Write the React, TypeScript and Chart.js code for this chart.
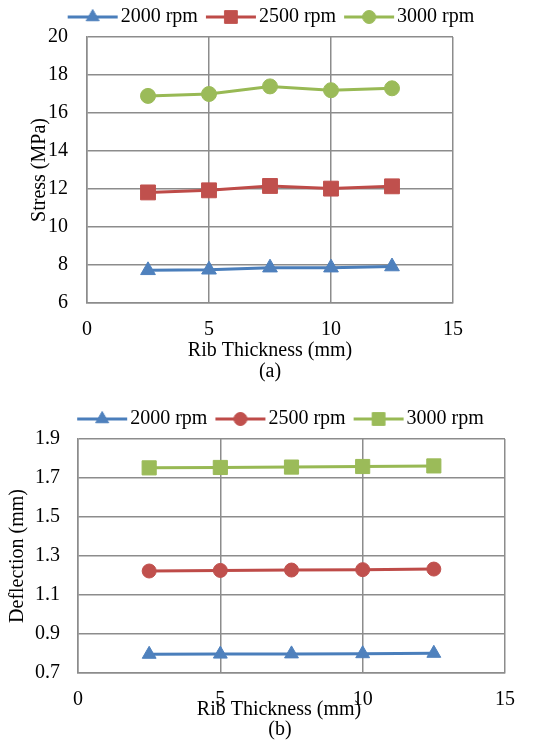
import React, { useEffect, useRef } from 'react';
import { Chart, registerables } from 'chart.js';
import { drawPoint } from 'chart.js/helpers';

Chart.register(...registerables);

// ---------- data ----------
const thickness = [2.5, 5, 7.5, 10, 12.5];
const seriesNames = ['2000 rpm', '2500 rpm', '3000 rpm'];

const stress2000 = [7.72, 7.75, 7.86, 7.86, 7.92];
const stress2500 = [11.82, 11.93, 12.16, 12.02, 12.14];
const stress3000 = [16.9, 17.0, 17.4, 17.2, 17.3];

const deflection2000 = [0.796, 0.797, 0.798, 0.799, 0.801];
const deflection2500 = [1.223, 1.226, 1.228, 1.23, 1.233];
const deflection3000 = [1.752, 1.754, 1.756, 1.759, 1.762];

const xTickValues = [0, 5, 10, 15];
const stressTickValues = [6, 8, 10, 12, 14, 16, 18, 20];
const deflectionTickValues = [0.7, 0.9, 1.1, 1.3, 1.5, 1.7, 1.9];

const xTitle = 'Rib Thickness (mm)';
const stressTitle = 'Stress (MPa)';
const deflectionTitle = 'Deflection (mm)';
const captionA = '(a)';
const captionB = '(b)';

// ---------- styles ----------
const lineColors = ['#4a7ebb', '#be4b48', '#98b954'];
const markerColors = ['#4f81bd', '#c0504d', '#9bbb59'];
const gridColor = '#8c8c8c';
const FAMILY = "'Liberation Serif', 'Times New Roman', serif";
const FONT = { family: FAMILY, size: 20, lineHeight: 1 };

type Marker = { style: string; radius: number; legendRadius: number };

function makeIcon(lineColor: string, markerColor: string, m: Marker) {
  const c = document.createElement('canvas');
  c.width = 70;
  c.height = 20;
  const ctx = c.getContext('2d')!;
  ctx.strokeStyle = lineColor;
  ctx.lineWidth = 3;
  ctx.beginPath();
  ctx.moveTo(15, 10);
  ctx.lineTo(65, 10);
  ctx.stroke();
  ctx.fillStyle = markerColor;
  ctx.strokeStyle = markerColor;
  ctx.lineWidth = 1;
  drawPoint(ctx, { pointStyle: m.style as any, radius: m.legendRadius, borderWidth: 1, rotation: 0 }, 40, 10);
  return c;
}

function buildConfig(p: {
  values: number[][];
  markers: Marker[];
  yTicks: number[];
  yTitle: string;
  yDecimals: number;
  padLeft: number;
  padRight: number;
  padTop: number;
  yWidth: number;
  rightWidth: number;
  yTickPad: number;
  yTitlePad: number;
  xTitleText: string;
  xTitlePad: number;
}) {
  const icons = p.markers.map((m, i) => makeIcon(lineColors[i], markerColors[i], m));
  return {
    type: 'line' as const,
    data: {
      datasets: p.values.map((vals, i) => ({
        label: seriesNames[i],
        data: thickness.map((t, j) => ({ x: t, y: vals[j] })),
        borderColor: lineColors[i],
        backgroundColor: markerColors[i],
        borderWidth: 3,
        pointStyle: p.markers[i].style,
        pointRadius: p.markers[i].radius,
        pointBackgroundColor: markerColors[i],
        pointBorderColor: markerColors[i],
        pointBorderWidth: 1,
        tension: 0,
        clip: false as any,
      })),
    },
    options: {
      responsive: false,
      animation: false as const,
      devicePixelRatio: 1,
      layout: { padding: { left: p.padLeft, right: p.padRight, top: p.padTop, bottom: 0 } },
      plugins: {
        tooltip: { enabled: false },
        legend: {
          position: 'top' as const,
          labels: {
            usePointStyle: true,
            pointStyleWidth: 46,
            padding: 5,
            color: '#000',
            font: FONT,
            generateLabels: () =>
              seriesNames.map((name, i) => ({
                text: name,
                pointStyle: icons[i],
                fillStyle: markerColors[i],
                strokeStyle: markerColors[i],
                lineWidth: 0,
                hidden: false,
                datasetIndex: i,
                fontColor: '#000',
              })),
          },
        },
      },
      scales: {
        x: {
          type: 'linear' as const,
          min: 0,
          max: 15,
          afterBuildTicks: (s: any) => {
            s.ticks = xTickValues.map((v) => ({ value: v }));
          },
          grid: { color: gridColor, lineWidth: 1.5, drawTicks: false },
          border: { color: gridColor, width: 1.5 },
          ticks: { padding: 17, color: '#000', font: FONT, maxRotation: 0 },
          title: {
            display: true,
            text: p.xTitleText,
            color: '#000',
            font: FONT,
            padding: { top: p.xTitlePad, bottom: 0 },
          },
        },
        y: {
          type: 'linear' as const,
          position: 'left' as const,
          min: p.yTicks[0],
          max: p.yTicks[p.yTicks.length - 1],
          afterBuildTicks: (s: any) => {
            s.ticks = p.yTicks.map((v) => ({ value: v }));
          },
          afterFit: (s: any) => {
            s.width = p.yWidth;
          },
          grid: { color: gridColor, lineWidth: 1.5, drawTicks: false },
          border: { color: gridColor, width: 1.5 },
          ticks: {
            padding: p.yTickPad,
            color: '#000',
            font: FONT,
            callback: (v: any) => Number(v).toFixed(p.yDecimals),
          },
          title: {
            display: true,
            text: p.yTitle,
            color: '#000',
            font: FONT,
            padding: { top: p.yTitlePad, bottom: 0 },
          },
        },
        yRight: {
          type: 'linear' as const,
          axis: 'y' as const,
          position: 'right' as const,
          display: true,
          grid: { display: false, drawTicks: false },
          border: { display: false },
          ticks: { display: false },
          afterFit: (s: any) => {
            s.width = p.rightWidth;
          },
        },
      },
    },
  };
}

function ChartCanvas({ make, top, height }: { make: () => any; top: number; height: number }) {
  const ref = useRef<HTMLCanvasElement>(null);
  useEffect(() => {
    const chart = new Chart(ref.current!, make());
    return () => chart.destroy();
  }, []);
  return (
    <canvas
      ref={ref}
      width={548}
      height={height}
      style={{ position: 'absolute', left: 0, top, width: 548, height, display: 'block' }}
    />
  );
}

const captionStyle = (left: number, top: number): React.CSSProperties => ({
  position: 'absolute',
  left,
  top,
  width: 100,
  textAlign: 'center',
  fontFamily: FAMILY,
  fontSize: 20,
  lineHeight: '20px',
  color: '#000',
});

export default function App() {
  const makeA = () =>
    buildConfig({
      values: [stress2000, stress2500, stress3000],
      markers: [
        { style: 'triangle', radius: 8.5, legendRadius: 7.5 },
        { style: 'rect', radius: 10.5, legendRadius: 9 },
        { style: 'circle', radius: 7.5, legendRadius: 6.5 },
      ],
      yTicks: stressTickValues,
      yTitle: stressTitle,
      yDecimals: 0,
      padLeft: 0,
      padRight: 9,
      padTop: 2,
      yWidth: 87,
      rightWidth: 86,
      yTickPad: 19,
      yTitlePad: 29.5,
      xTitleText: xTitle,
      xTitlePad: -16,
    });
  const makeB = () =>
    buildConfig({
      values: [deflection2000, deflection2500, deflection3000],
      markers: [
        { style: 'triangle', radius: 8, legendRadius: 7.5 },
        { style: 'circle', radius: 7, legendRadius: 6.5 },
        { style: 'rect', radius: 10, legendRadius: 9 },
      ],
      yTicks: deflectionTickValues,
      yTitle: deflectionTitle,
      yDecimals: 1,
      padLeft: 10,
      padRight: 0,
      padTop: 14,
      yWidth: 68,
      rightWidth: 43,
      yTickPad: 18,
      yTitlePad: -2,
      xTitleText: xTitle + '     ',
      xTitlePad: -27,
    });
  return (
    <div style={{ position: 'absolute', left: 0, top: 0, width: 548, height: 749, overflow: 'hidden', background: '#fff' }}>
      <ChartCanvas make={makeA} top={0} height={361} />
      <div style={captionStyle(220, 360)}>{captionA}</div>
      <ChartCanvas make={makeB} top={390} height={330} />
      <div style={captionStyle(230, 718)}>{captionB}</div>
    </div>
  );
}
